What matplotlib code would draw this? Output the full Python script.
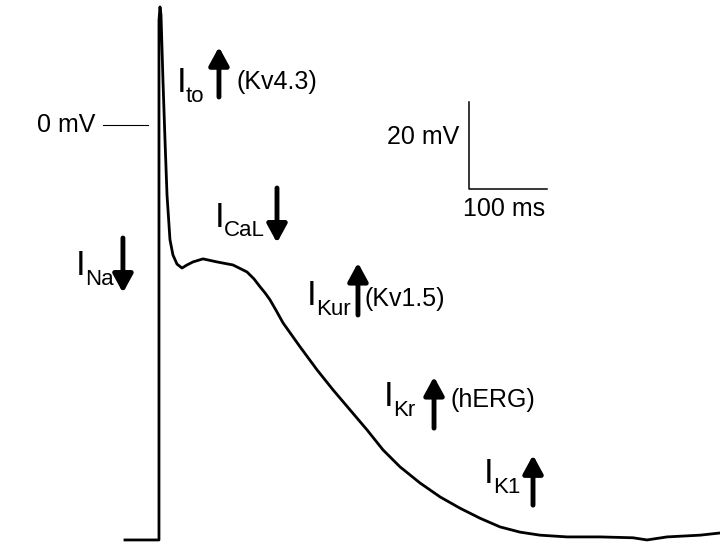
import matplotlib
matplotlib.use("Agg")
import matplotlib.pyplot as plt

plt.rcParams['font.family'] = ['Liberation Sans', 'DejaVu Sans']

# action potential trace (time in ms, membrane potential in mV)
time_ms = [-43.6, 0.0, 0.0, 1.3, 2.6, 5.1, 7.7, 10.3, 14.1, 17.9, 23.1, 29.5,
           35.9, 43.6, 56.4, 74.4, 94.9, 112.8, 121.8, 129.5, 135.9, 142.3,
           150.0, 159.0, 180.8, 202.6, 223.1, 244.9, 266.7, 287.2, 309.0,
           334.6, 360.3, 385.9, 411.5, 437.2, 462.8, 488.5, 523.1, 565.4,
           607.7, 625.6, 651.3, 693.6, 719.2]
voltage_mv = [-95.4, -95.4, 24.0, 27.1, 25.3, 10.3, -3.4, -16.1, -26.4, -29.9,
              -32.0, -32.9, -32.2, -31.5, -30.8, -31.5, -32.2, -33.8, -35.4,
              -37.2, -38.6, -40.2, -42.6, -45.5, -51.0, -56.3, -60.9, -65.5,
              -70.1, -74.7, -78.6, -82.3, -85.5, -88.1, -90.4, -92.4, -93.6,
              -94.3, -94.7, -94.7, -94.9, -95.4, -94.7, -94.3, -93.8]

# ionic currents and their channels
currents = ['Na', 'to', 'CaL', 'Kur', 'Kr', 'K1']
directions = ['down', 'up', 'down', 'up', 'up', 'up']
channels = ['', '(Kv4.3)', '', '(Kv1.5)', '(hERG)', '']

scale_mv = 20
scale_ms = 100

fig = plt.figure(figsize=(7.2, 5.43), dpi=100)
ax = fig.add_axes([0, 0, 1, 1])
ax.set_xlim(-203.8, 719.2)
ax.set_ylim(-96.1, 28.7)
ax.axis('off')

ax.plot(time_ms, voltage_mv, color='black', lw=2.0, solid_joinstyle='round')

# 0 mV reference
ax.plot([-71.8, -14], [0, 0], color='black', lw=0.8)
ax.text(-81, 0, '0 mV', fontsize=18, ha='right', va='center')

# scale bar
sb_t, sb_v = 397.4, -14.7
ax.plot([sb_t, sb_t, sb_t + scale_ms], [sb_v + scale_mv, sb_v, sb_v],
        color='black', lw=1.1)
ax.text(sb_t - 12, sb_v + scale_mv * 0.6, f'{scale_mv} mV', fontsize=18,
        ha='right', va='center')
ax.text(sb_t + scale_ms * 0.45, sb_v - 4.6, f'{scale_ms} ms', fontsize=18,
        ha='center', va='center')

# label layout: "I" position, arrow x and arrow span, channel text position
label_pos = [(-106.4, -34.5), (23.1, 7.6), (71.8, -23.4),
             (189.7, -41.4), (288.5, -64.6), (416.7, -82.3)]
arrow_x = [-46.2, 76.9, 151.3, 255.1, 352.6, 479.5]
arrow_span = [(-26.0, -38.6), (6.4, 17.9), (-14.5, -27.1),
              (-43.7, -31.7), (-69.7, -57.9), (-87.4, -75.9)]
channel_pos = [None, (100.0, 9.9), None, (264.1, -40.0), (373.1, -63.2), None]

for i, cur in enumerate(currents):
    x, y = label_pos[i]
    ax.text(x, y, 'I', fontsize=25, ha='left', va='baseline')
    ax.annotate(cur, xy=(x, y), xytext=(6.5, -7), textcoords='offset points',
                fontsize=16, ha='left', va='baseline')
    y0, y1 = arrow_span[i]
    ax.annotate('', xy=(arrow_x[i], y1), xytext=(arrow_x[i], y0),
                arrowprops=dict(arrowstyle='-|>,head_length=0.55,head_width=0.3',
                                lw=3.5, color='black', mutation_scale=20,
                                shrinkA=0, shrinkB=0))
    if channels[i]:
        cx, cy = channel_pos[i]
        ax.text(cx, cy, channels[i], fontsize=18, ha='left', va='center')

fig.savefig('out.png', dpi=100)
